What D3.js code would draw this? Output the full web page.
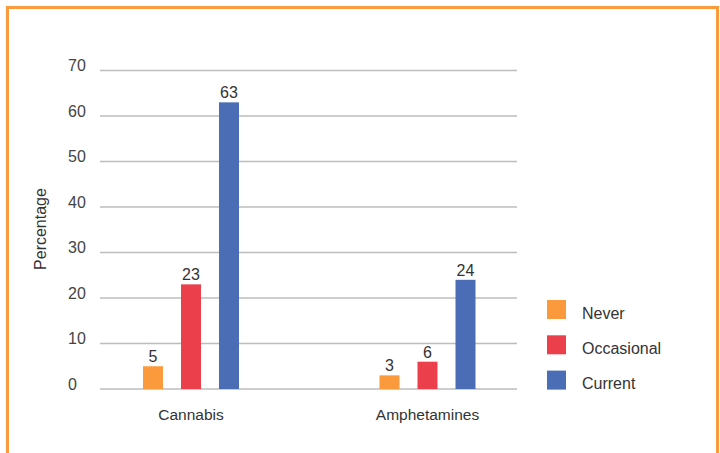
<!DOCTYPE html>
<html>
<head>
<meta charset="utf-8">
<script src="https://cdn.jsdelivr.net/npm/d3@7"></script>
<style>
  html, body { margin: 0; padding: 0; background: #fff; }
  svg text { font-family: "Liberation Sans", Arial, sans-serif; }
</style>
</head>
<body>
<svg id="chart" width="720" height="453"></svg>
<script>
// Drug use by frequency group (percent)
const categories = ["Cannabis", "Amphetamines"];
const seriesNames = ["Never", "Occasional", "Current"];
const never = [5, 3];
const occasional = [23, 6];
const current = [63, 24];
const yTicks = [0, 10, 20, 30, 40, 50, 60, 70];
const colors = ["#FA9A3C", "#EB404B", "#4A6DB5"];

const seriesValues = [never, occasional, current];

const svg = d3.select("#chart");

// Orange frame around the figure
svg.append("rect")
  .attr("x", 7.5).attr("y", 7.5)
  .attr("width", 710).attr("height", 460)
  .attr("fill", "none")
  .attr("stroke", "#FA9A3C")
  .attr("stroke-width", 3);

const plotLeft = 100, plotRight = 517;
const y = d3.scaleLinear().domain([0, 70]).range([389, 70.5]);

// Group centres for the two substances
const x0 = d3.scaleBand().domain(categories).range([72.75, 545.75]).padding(0);
const x1 = d3.scaleBand().domain(seriesNames).range([0, 96]).paddingInner(0.474).paddingOuter(0);
const groupOffset = (x0.bandwidth() - 96) / 2;

// Horizontal gridlines
svg.append("g").selectAll("line")
  .data(yTicks)
  .join("line")
  .attr("x1", plotLeft).attr("x2", plotRight)
  .attr("y1", d => y(d)).attr("y2", d => y(d))
  .attr("stroke", "#BDBDBD")
  .attr("stroke-width", 1.5);

// Y tick labels
svg.append("g").selectAll("text")
  .data(yTicks)
  .join("text")
  .attr("x", 68)
  .attr("y", d => y(d) - 5)
  .attr("dy", "0.35em")
  .attr("font-size", 16)
  .attr("fill", "#444")
  .text(d => d);

// Y axis title
svg.append("text")
  .attr("transform", "translate(46,229) rotate(-90)")
  .attr("text-anchor", "middle")
  .attr("font-size", 16)
  .attr("fill", "#333")
  .text("Percentage");

// Bars
const groups = svg.append("g").selectAll("g")
  .data(categories)
  .join("g")
  .attr("transform", d => `translate(${x0(d) + groupOffset},0)`);

groups.each(function(cat, ci) {
  const g = d3.select(this);
  seriesNames.forEach((s, si) => {
    const v = seriesValues[si][ci];
    g.append("rect")
      .attr("x", x1(s))
      .attr("y", y(v))
      .attr("width", x1.bandwidth())
      .attr("height", y(0) - y(v))
      .attr("fill", colors[si]);
    g.append("text")
      .attr("x", x1(s) + x1.bandwidth() / 2)
      .attr("y", y(v) - 4)
      .attr("text-anchor", "middle")
      .attr("font-size", 16)
      .attr("fill", "#333")
      .text(v);
  });
});

// Category labels
svg.append("g").selectAll("text")
  .data(categories)
  .join("text")
  .attr("x", d => x0(d) + x0.bandwidth() / 2)
  .attr("y", 415)
  .attr("dy", "0.35em")
  .attr("text-anchor", "middle")
  .attr("font-size", 15.5)
  .attr("fill", "#333")
  .text(d => d);

// Legend
const legend = svg.append("g").selectAll("g")
  .data(seriesNames)
  .join("g")
  .attr("transform", (d, i) => `translate(547,${300 + i * 35.3})`);
legend.append("rect")
  .attr("width", 19).attr("height", 19)
  .attr("fill", (d, i) => colors[i]);
legend.append("text")
  .attr("x", 35).attr("y", 13)
  .attr("dy", "0.35em")
  .attr("font-size", 16)
  .attr("fill", "#333")
  .text(d => d);
</script>
</body>
</html>
